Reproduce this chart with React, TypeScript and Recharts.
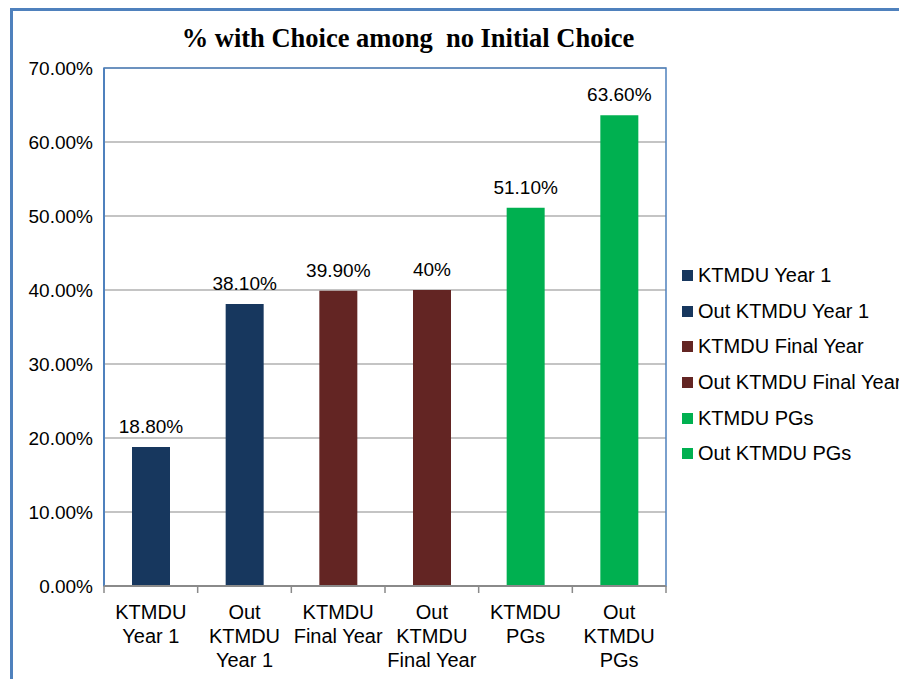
import { BarChart, Bar, XAxis, YAxis, CartesianGrid, Cell, LabelList, ReferenceArea, Legend } from 'recharts'

const categories = ['KTMDU Year 1', 'Out KTMDU Year 1', 'KTMDU Final Year', 'Out KTMDU Final Year', 'KTMDU PGs', 'Out KTMDU PGs']
const tickLines = [
  ['KTMDU', 'Year 1'],
  ['Out', 'KTMDU', 'Year 1'],
  ['KTMDU', 'Final Year'],
  ['Out', 'KTMDU', 'Final Year'],
  ['KTMDU', 'PGs'],
  ['Out', 'KTMDU', 'PGs'],
]
const values = [18.8, 38.1, 39.9, 40, 51.1, 63.6]
const valueLabels = ['18.80%', '38.10%', '39.90%', '40%', '51.10%', '63.60%']
const barColors = ['#17375E', '#17375E', '#632523', '#632523', '#00B050', '#00B050']
const yTicks = [0, 10, 20, 30, 40, 50, 60, 70]

const data = categories.map((name, i) => ({ name, value: values[i] }))

const SANS = '"Liberation Sans", Arial, sans-serif'
const SERIF = '"Liberation Serif", "Times New Roman", serif'
const BLUE = '#4F81BD'
const GREY = '#8a8a8a'

function CategoryTick(props: any) {
  const { x, y, index, width, visibleTicksCount } = props
  const count = visibleTicksCount || categories.length
  const band = (typeof width === 'number' ? width : 562) / count
  const lines = tickLines[index] || []
  return (
    <g>
      <line x1={x - band / 2} x2={x - band / 2} y1={y} y2={y + 7} stroke={GREY} strokeWidth={1.5} />
      {index === count - 1 && (
        <line x1={x + band / 2} x2={x + band / 2} y1={y} y2={y + 7} stroke={GREY} strokeWidth={1.5} />
      )}
      <text x={x} y={y} textAnchor="middle" fontSize={20} fill="#000" fontFamily={SANS}>
        {lines.map((l, i) => (
          <tspan key={i} x={x} dy={i === 0 ? 33 : 24}>{l}</tspan>
        ))}
      </text>
    </g>
  )
}

function ValueLabel(props: any) {
  const { x, y, width, index } = props
  return (
    <text x={x + width / 2} y={y - 14} textAnchor="middle" fontSize={19} fill="#000" fontFamily={SANS}>
      {valueLabels[index]}
    </text>
  )
}

function LegendBox() {
  return (
    <div style={{ fontFamily: SANS, fontSize: 20, color: '#000', whiteSpace: 'nowrap' }}>
      {categories.map((c, i) => (
        <div key={c} style={{ height: 35.6, display: 'flex', alignItems: 'center' }}>
          <span style={{ width: 11, height: 11, background: barColors[i], marginRight: 5, display: 'inline-block' }} />
          <span>{c}</span>
        </div>
      ))}
    </div>
  )
}

export default function App() {
  return (
    <div style={{ position: 'fixed', left: 0, top: 0, width: 899, height: 679, overflow: 'hidden', background: '#fff' }}>
      <div style={{ position: 'absolute', left: 10, top: 8, width: 1000, height: 1000, border: `3px solid ${BLUE}` }} />
      <div style={{
        position: 'absolute', left: 0, top: 25, width: 816, textAlign: 'center', whiteSpace: 'pre',
        fontFamily: SERIF, fontWeight: 'bold', fontSize: 26.5, lineHeight: '26px', color: '#000',
      }}>
        {'% with Choice among  no Initial Choice'}
      </div>
      <div style={{ position: 'absolute', left: 0, top: 0 }}>
        <BarChart width={899} height={679} data={data} margin={{ top: 68, right: 233, bottom: 0, left: 0 }}>
          <CartesianGrid vertical={false} stroke={GREY} strokeWidth={1.2} />
          <ReferenceArea y1={0} y2={70} fill="none" stroke={BLUE} strokeWidth={1.5} ifOverflow="visible" />
          <YAxis
            width={104}
            domain={[0, 70]}
            ticks={yTicks}
            interval={0}
            axisLine={{ stroke: BLUE, strokeWidth: 2 }}
            tickLine={false}
            tickSize={0}
            tickMargin={11}
            tick={{ fontSize: 19, fill: '#000', fontFamily: SANS }}
            tickFormatter={(v: number) => `${v.toFixed(2)}%`}
          />
          <XAxis
            dataKey="name"
            height={93}
            interval={0}
            axisLine={{ stroke: GREY, strokeWidth: 2 }}
            tickLine={false}
            tickSize={0}
            tickMargin={0}
            tick={<CategoryTick />}
          />
          <Bar dataKey="value" barSize={38} isAnimationActive={false}>
            {data.map((d, i) => (
              <Cell key={d.name} fill={barColors[i]} />
            ))}
            <LabelList dataKey="value" content={<ValueLabel />} />
          </Bar>
          <Legend
            layout="vertical"
            align="center"
            verticalAlign="middle"
            content={<LegendBox />}
            wrapperStyle={{ left: 682, top: 258, width: 300 }}
          />
        </BarChart>
      </div>
    </div>
  )
}
